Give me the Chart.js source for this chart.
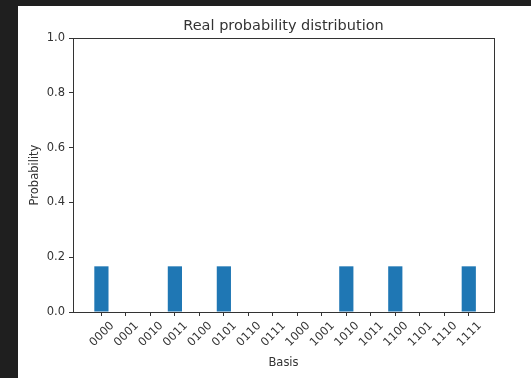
<!DOCTYPE html>
<html>
<head>
<meta charset="utf-8">
<script src="https://cdn.jsdelivr.net/npm/chart.js@4.4.1/dist/chart.umd.min.js"></script>
<style>
  html, body { margin: 0; padding: 0; background: #1f1f1f; }
  #wrap { position: absolute; left: 18px; top: 6px; width: 513px; height: 372px; background: #fff; }
</style>
</head>
<body>
<div id="wrap"><canvas id="probChart" width="513" height="372"></canvas></div>
<script>
const basis = ['0000', '0001', '0010', '0011', '0100', '0101', '0110', '0111',
               '1000', '1001', '1010', '1011', '1100', '1101', '1110', '1111'];
const probability = [0.1667, 0, 0, 0.1667, 0, 0.1667, 0, 0,
                     0, 0, 0.1667, 0, 0.1667, 0, 0, 0.1667];
const yTicks = [0, 0.2, 0.4, 0.6, 0.8, 1.0];

const fontFamily = '"DejaVu Sans", sans-serif';
const textColor = '#333';

// matplotlib draws a full frame, chart.js only the axis lines
const frame = {
  id: 'frame',
  afterDraw(chart) {
    const { ctx, chartArea } = chart;
    ctx.save();
    ctx.strokeStyle = '#333';
    ctx.lineWidth = 1;
    ctx.strokeRect(Math.round(chartArea.left) + 0.5, Math.round(chartArea.top) + 0.5,
      Math.round(chartArea.right - chartArea.left), Math.round(chartArea.bottom - chartArea.top));
    ctx.restore();
  }
};

const ctx = document.getElementById('probChart').getContext('2d');
new Chart(ctx, {
  type: 'bar',
  data: {
    datasets: [{
      label: 'Probability',
      data: basis.map((b, i) => ({ x: i, y: probability[i] })),
      backgroundColor: '#1f77b4',
      borderWidth: 0,
      barPercentage: 0.58,
      categoryPercentage: 1
    }]
  },
  options: {
    responsive: false,
    animation: false,
    layout: { padding: { left: 0, right: 37, top: 0, bottom: 0 } },
    plugins: {
      legend: { display: false },
      tooltip: { enabled: false },
      title: {
        display: true,
        fullSize: false,
        text: 'Real probability distribution',
        color: textColor,
        font: { family: fontFamily, size: 14.5, weight: 'normal' },
        padding: { top: 11.5, bottom: 3.1 }
      }
    },
    scales: {
      x: {
        type: 'linear',
        min: -1.16,
        max: 16.03,
        offset: false,
        afterBuildTicks: axis => { axis.ticks = basis.map((b, i) => ({ value: i })); },
        afterFit: axis => { axis.height = 66; },
        ticks: {
          autoSkip: false,
          minRotation: 45,
          maxRotation: 45,
          padding: 3,
          labelOffset: 11,
          color: textColor,
          font: { family: fontFamily, size: 11.5 },
          callback: v => basis[v]
        },
        grid: { display: true, offset: false, drawOnChartArea: false, tickLength: 4, color: '#333' },
        border: { display: true, color: '#333' },
        title: {
          display: true,
          text: 'Basis',
          color: textColor,
          font: { family: fontFamily, size: 11.5 },
          padding: { top: 0, bottom: 8 }
        }
      },
      y: {
        min: 0,
        max: 1,
        afterBuildTicks: axis => { axis.ticks = yTicks.map(v => ({ value: v })); },
        afterFit: axis => { axis.width = 55; },
        ticks: {
          padding: 4,
          color: textColor,
          font: { family: fontFamily, size: 11.5 },
          callback: v => v.toFixed(1)
        },
        grid: { display: true, drawOnChartArea: false, tickLength: 4, color: '#333' },
        border: { display: true, color: '#333' },
        title: {
          display: true,
          text: 'Probability',
          color: textColor,
          font: { family: fontFamily, size: 11.5 },
          padding: { top: 10, bottom: 0 }
        }
      }
    }
  },
  plugins: [frame]
});
</script>
</body>
</html>
